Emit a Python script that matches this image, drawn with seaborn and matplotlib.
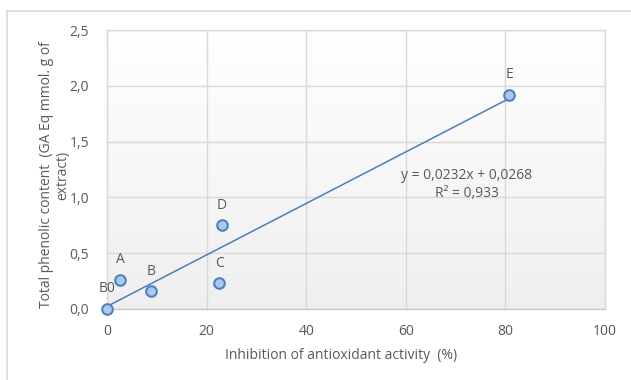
import numpy as np
import pandas as pd
import matplotlib
matplotlib.use("Agg")
import matplotlib.pyplot as plt
import seaborn as sns
from matplotlib.lines import Line2D

labels = ["B0", "A", "B", "C", "D", "E"]
inhibition = [0.0, 2.7, 8.9, 22.5, 23.0, 80.8]
phenolic = [0.0, 0.26, 0.16, 0.23, 0.75, 1.92]
x_ticks = [0, 20, 40, 60, 80, 100]
y_ticks = [0.0, 0.5, 1.0, 1.5, 2.0, 2.5]
equation_text = "y = 0,0232x + 0,0268\nR² = 0,933"

df = pd.DataFrame({"x": inhibition, "y": phenolic, "label": labels})

sns.set_theme(style="white")
plt.rcParams["font.family"] = ["Open Sans", "DejaVu Sans"]
text_col = "#595959"
grid_col = "#d9d9d9"

W, H = 631, 380
fig = plt.figure(figsize=(W / 100, H / 100), dpi=100)
ax = fig.add_axes([107 / W, 1 - 309 / H, (605 - 107) / W, (309 - 30) / H])

# outer chart frame (partially visible)
fig.add_artist(Line2D([7 / W, 7 / W], [0, 1 - 11 / H], color=grid_col, lw=1.2))
fig.add_artist(Line2D([7 / W, 1], [1 - 11 / H, 1 - 11 / H], color=grid_col, lw=1.2))

# gradient background: white at top, light grey at bottom
grad = np.linspace(0, 1, 256).reshape(-1, 1)
cmap = matplotlib.colors.LinearSegmentedColormap.from_list("g", ["#efefef", "#ffffff"])
ax.imshow(grad, extent=[0, 100, 0, 2.5], aspect="auto", cmap=cmap,
          origin="lower", zorder=0)

ax.set_xlim(0, 100)
ax.set_ylim(0, 2.5)
ax.set_xticks(x_ticks)
ax.set_yticks(y_ticks)
ax.set_xticklabels([str(v) for v in x_ticks])
ax.set_yticklabels([f"{v:.1f}".replace(".", ",") for v in y_ticks])
ax.grid(True, color=grid_col, lw=1)
for g in ax.get_xgridlines() + ax.get_ygridlines():
    g.set_zorder(1)
for s in ax.spines.values():
    s.set_color(grid_col)
    s.set_linewidth(1)
    s.set_zorder(2)
ax.spines["bottom"].set_color("#c8c8c8")
ax.tick_params(axis="both", length=0, labelsize=10, colors=text_col)
ax.tick_params(axis="x", pad=11)
ax.tick_params(axis="y", pad=13)

sns.regplot(data=df, x="x", y="y", ax=ax, ci=None, scatter=False,
            line_kws=dict(color="#4a7ebb", lw=1.1, zorder=3))
sns.scatterplot(data=df, x="x", y="y", ax=ax, s=58, color="#adc8ee",
                edgecolor="#4f81bd", linewidth=1.5, zorder=4, clip_on=False)

for lab, xv, yv in zip(labels, inhibition, phenolic):
    ax.annotate(lab, (xv, yv), xytext=(0, 20), textcoords="offset pixels",
                ha="center", va="center", fontsize=10, color=text_col, zorder=5)

ax.text(72.3, 1.115, equation_text, ha="center", va="center", fontsize=10,
        color=text_col, linespacing=1.35, zorder=5)

ax.set_xlabel("Inhibition of antioxidant activity  (%)", fontsize=10, color=text_col)
ax.xaxis.set_label_coords((341 - 107) / (605 - 107), -(348 - 309) / (309 - 30))
ax.set_ylabel("Total phenolic content  (GA Eq mmol. g of\nextract)", fontsize=10,
              color=text_col, linespacing=1.1)
ax.yaxis.set_label_coords(-(107 - 70) / (605 - 107), (309 - 175) / (309 - 30))

fig.savefig("out.png", dpi=100, facecolor="white")
